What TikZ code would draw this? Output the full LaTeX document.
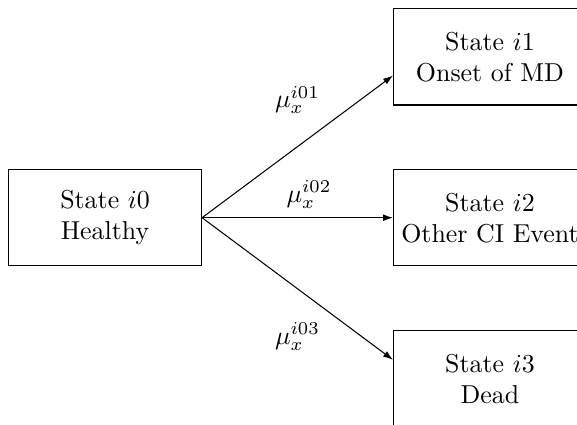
\documentclass[tikz,border=0pt]{standalone}
\usetikzlibrary{arrows.meta,positioning}
\tikzset{
  >={Latex[length=3.8pt,width=2.6pt]},
  st/.style  ={draw, minimum height=13.1mm, minimum width=26.2mm, inner xsep=2pt, align=center},
  arr/.style ={->},
  lbl/.style ={inner sep=3.33pt},
}
\begin{document}
\begin{tikzpicture}[node distance=8.6mm]
  \useasboundingbox (-14.25mm,-28mm) rectangle (64.05mm,29.54mm);
  \node[st] (healthy) {State $i0$\\Healthy};
  \node[st, right=25.9mm of healthy] (other) {State $i2$\\Other CI Event};
  \node[st, above=of other] (onset) {State $i1$\\Onset of MD};
  \node[st, below=of other] (dead) {State $i3$\\Dead};
  \draw[arr] (healthy.east) -- node[lbl, above=3.2mm]{$\mu_x^{i01}$} (onset.191);
  \draw[arr] (healthy.east) -- node[lbl, above, pos=0.56]{$\mu_x^{i02}$} (other.west);
  \draw[arr] (healthy.east) -- node[lbl, below=3.4mm]{$\mu_x^{i03}$} (dead.169);
\end{tikzpicture}
\end{document}
